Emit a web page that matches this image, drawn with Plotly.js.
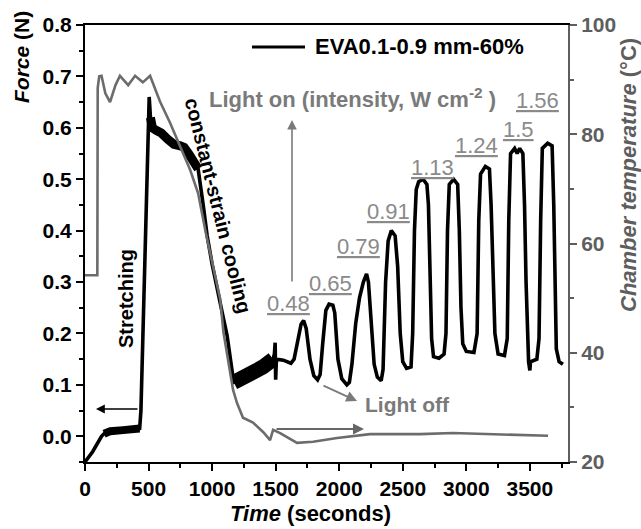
<!DOCTYPE html>
<html>
<head>
<meta charset="utf-8">
<script src="https://cdn.plot.ly/plotly-3.0.1.min.js"></script>
<style>html,body{margin:0;padding:0;background:#fff;}#chart{width:641px;height:529px;}</style>
</head>
<body>
<div id="chart"></div>
<script>
// ---- Data ----
const seriesName = 'EVA0.1-0.9 mm-60%';

const forceTime = [0, 60, 130, 150, 200, 300, 400, 430, 440, 470, 500, 505, 515, 530, 560, 600, 650, 700, 750, 780, 820, 860, 890, 930, 961, 1000, 1039, 1080, 1118, 1145, 1160, 1170, 1200, 1250, 1300, 1350, 1400, 1450, 1480, 1490, 1496, 1500, 1506, 1560, 1620, 1645, 1675, 1700, 1720, 1740, 1770, 1800, 1830, 1850, 1870, 1895, 1920, 1950, 1965, 1990, 2020, 2060, 2080, 2100, 2130, 2160, 2190, 2215, 2230, 2250, 2275, 2300, 2330, 2345, 2365, 2385, 2410, 2440, 2460, 2480, 2500, 2530, 2565, 2578, 2592, 2606, 2625, 2660, 2690, 2702, 2714, 2727, 2742, 2785, 2825, 2840, 2852, 2866, 2900, 2932, 2945, 2958, 2972, 3000, 3060, 3085, 3098, 3112, 3150, 3182, 3195, 3210, 3225, 3250, 3300, 3322, 3334, 3348, 3380, 3400, 3420, 3445, 3458, 3470, 3480, 3490, 3500, 3505, 3555, 3572, 3585, 3598, 3640, 3675, 3688, 3698, 3708, 3730, 3760];
const forceValue = [-0.05, -0.03, 0.0, 0.005, 0.01, 0.012, 0.012, 0.015, 0.05, 0.35, 0.64, 0.66, 0.62, 0.60, 0.595, 0.59, 0.578, 0.568, 0.565, 0.562, 0.548, 0.53, 0.52, 0.45, 0.39, 0.335, 0.285, 0.24, 0.196, 0.15, 0.12, 0.105, 0.108, 0.112, 0.122, 0.128, 0.135, 0.145, 0.15, 0.16, 0.182, 0.11, 0.15, 0.148, 0.142, 0.15, 0.19, 0.218, 0.225, 0.21, 0.15, 0.118, 0.11, 0.12, 0.18, 0.245, 0.257, 0.255, 0.24, 0.15, 0.112, 0.10, 0.105, 0.14, 0.22, 0.27, 0.30, 0.316, 0.30, 0.22, 0.14, 0.115, 0.108, 0.13, 0.30, 0.38, 0.40, 0.39, 0.33, 0.20, 0.145, 0.132, 0.135, 0.20, 0.40, 0.48, 0.495, 0.50, 0.49, 0.45, 0.30, 0.19, 0.155, 0.152, 0.16, 0.20, 0.40, 0.49, 0.50, 0.49, 0.40, 0.25, 0.18, 0.165, 0.163, 0.20, 0.42, 0.51, 0.525, 0.52, 0.45, 0.30, 0.20, 0.16, 0.157, 0.19, 0.42, 0.55, 0.56, 0.55, 0.56, 0.55, 0.45, 0.30, 0.18, 0.145, 0.128, 0.145, 0.15, 0.19, 0.42, 0.56, 0.57, 0.565, 0.45, 0.30, 0.17, 0.145, 0.14];

const tempTime = [0, 97, 100, 112, 130, 160, 197, 240, 275, 340, 394, 455, 512, 590, 669, 748, 827, 890, 950, 1063, 1089, 1141, 1165, 1196, 1243, 1322, 1401, 1456, 1480, 1535, 1668, 1794, 1983, 2242, 2636, 2895, 3163, 3643];
const tempValue = [54.2, 54.2, 88.5, 90.6, 90.7, 87.5, 85.9, 89.0, 90.7, 89.0, 90.7, 89.5, 90.7, 86.0, 82.1, 77.7, 73.5, 69.2, 62.0, 49.9, 43.8, 36.5, 33.2, 30.8, 28.1, 27.2, 25.5, 24.0, 25.9, 25.3, 23.5, 23.7, 24.4, 25.1, 25.1, 25.3, 25.1, 24.8];

const intensityLabels = ['0.48', '0.65', '0.79', '0.91', '1.13', '1.24', '1.5', '1.56'];
const xTickVals = [0, 500, 1000, 1500, 2000, 2500, 3000, 3500];
const yTickVals = [0.0, 0.1, 0.2, 0.3, 0.4, 0.5, 0.6, 0.7, 0.8];
const y2TickVals = [20, 40, 60, 80, 100];

// time windows where the force signal is a noisy, thick band
const noisyWindows = [[150, 430, 8], [515, 890, 9], [1165, 1480, 15]];

// ---- Layout helpers (pixel -> axis coordinates) ----
const W = 641, H = 529;
const M = {l: 85, r: 73, t: 25, b: 67};
const PW = W - M.l - M.r, PH = H - M.t - M.b;
const XR = [0, 3800], YR = [-0.05, 0.8];
const px2x = px => XR[0] + (px - M.l) / PW * (XR[1] - XR[0]);
const py2y = py => YR[1] - (py - M.t) / PH * (YR[1] - YR[0]);
const px2p = px => (px - M.l) / PW;
const py2p = py => (H - M.b - py) / PH;

const FONT = 'Liberation Sans, Arial, sans-serif';
const GRAY = '#7a7a7a';
const AXGRAY = '#5e5e5e';

const traces = [];
noisyWindows.forEach(w => {
  const xs = [], ys = [];
  forceTime.forEach((t, i) => { if (t >= w[0] && t <= w[1]) { xs.push(t); ys.push(forceValue[i]); } });
  traces.push({x: xs, y: ys, type: 'scatter', mode: 'lines', showlegend: false, yaxis: 'y',
    line: {color: '#000', width: w[2]}});
});
traces.push(
  {
    x: forceTime, y: forceValue, name: seriesName, type: 'scatter', mode: 'lines',
    line: {color: '#000', width: 3.6}, showlegend: false, yaxis: 'y'
  },
  {
    x: tempTime, y: tempValue, name: 'Chamber temperature', type: 'scatter', mode: 'lines',
    line: {color: '#6c6c6c', width: 2.6}, showlegend: false, yaxis: 'y2'
  }
);

// Intensity label positions (pixel centres)
const labelPos = [[288, 303], [330, 283], [358, 246], [388, 211], [432, 167], [476, 145], [518, 129], [537, 100]];

const annotations = [];
intensityLabels.forEach((t, i) => {
  annotations.push({
    x: px2x(labelPos[i][0]), y: py2y(labelPos[i][1]), xref: 'x', yref: 'y',
    text: '<u>' + t + '</u>', showarrow: false, xanchor: 'center', yanchor: 'middle',
    font: {family: FONT, size: 22, color: '#8a8a8a'}
  });
});

annotations.push(
  {x: px2x(352), y: py2y(98), xref: 'x', yref: 'y', showarrow: false,
   text: '<b>Light on (intensity, W cm<sup>-2</sup> )</b>', xanchor: 'center', yanchor: 'middle',
   font: {family: FONT, size: 22, color: GRAY}},
  {x: px2x(292), y: py2y(120), ax: px2x(292), ay: py2y(283), xref: 'x', yref: 'y', axref: 'x', ayref: 'y',
   text: '', showarrow: true, arrowhead: 2, arrowsize: 1.2, arrowwidth: 1.6, arrowcolor: GRAY},
  {x: px2x(407), y: py2y(404), xref: 'x', yref: 'y', showarrow: false,
   text: '<b>Light off</b>', xanchor: 'center', yanchor: 'middle',
   font: {family: FONT, size: 21, color: GRAY}},
  {x: px2x(357), y: py2y(401), ax: px2x(322), ay: py2y(385), xref: 'x', yref: 'y', axref: 'x', ayref: 'y',
   text: '', showarrow: true, arrowhead: 2, arrowsize: 1.2, arrowwidth: 1.8, arrowcolor: GRAY},
  {x: px2x(364), y: py2y(429), ax: px2x(275), ay: py2y(429), xref: 'x', yref: 'y', axref: 'x', ayref: 'y',
   text: '', showarrow: true, arrowhead: 2, arrowsize: 1.1, arrowwidth: 2, arrowcolor: '#666'},
  {x: px2x(96), y: py2y(409), ax: px2x(139), ay: py2y(409), xref: 'x', yref: 'y', axref: 'x', ayref: 'y',
   text: '', showarrow: true, arrowhead: 2, arrowsize: 1.1, arrowwidth: 1.6, arrowcolor: '#000'},
  {x: px2x(126), y: py2y(299), xref: 'x', yref: 'y', showarrow: false, textangle: -90,
   text: '<b>Stretching</b>', xanchor: 'center', yanchor: 'middle',
   font: {family: FONT, size: 20, color: '#000'}},
  {x: px2x(218), y: py2y(205), xref: 'x', yref: 'y', showarrow: false, textangle: 76,
   text: '<b>constant-strain cooling</b>', xanchor: 'center', yanchor: 'middle',
   font: {family: FONT, size: 20, color: '#000'}},
  // legend text
  {x: px2p(313), y: py2p(47), xref: 'paper', yref: 'paper', showarrow: false,
   text: '<b>' + seriesName + '</b>', xanchor: 'left', yanchor: 'middle',
   font: {family: FONT, size: 22, color: '#000'}},
  // axis titles
  {x: px2p(22), y: py2p(57), xref: 'paper', yref: 'paper', showarrow: false, textangle: -90,
   text: '<b><i>Force</i> (N)</b>', xanchor: 'center', yanchor: 'middle',
   font: {family: FONT, size: 21, color: '#000'}},
  {x: px2p(628), y: py2p(175), xref: 'paper', yref: 'paper', showarrow: false, textangle: -90,
   text: '<b><i>Chamber temperature</i> (°C)</b>', xanchor: 'center', yanchor: 'middle',
   font: {family: FONT, size: 22, color: AXGRAY}},
  {x: px2p(310), y: py2p(513), xref: 'paper', yref: 'paper', showarrow: false,
   text: '<b><i>Time</i> (seconds)</b>', xanchor: 'center', yanchor: 'middle',
   font: {family: FONT, size: 22, color: '#000'}}
);

const shapes = [
  {type: 'line', xref: 'paper', yref: 'paper', x0: px2p(252), x1: px2p(305), y0: py2p(47), y1: py2p(47),
   line: {color: '#000', width: 3}}
];

const layout = {
  width: W, height: H,
  margin: M,
  paper_bgcolor: '#fff', plot_bgcolor: '#fff',
  showlegend: false,
  font: {family: FONT},
  xaxis: {
    range: XR, tickvals: xTickVals, ticktext: xTickVals.map(String),
    ticks: 'outside', ticklen: 7, tickwidth: 2, tickcolor: '#000',
    minor: {dtick: 250, ticks: 'outside', ticklen: 4, tickwidth: 2, tickcolor: '#000'},
    showline: true, linecolor: '#000', linewidth: 2, mirror: true,
    showgrid: false, zeroline: false,
    tickfont: {family: FONT, size: 21, color: '#000', weight: 'bold'}
  },
  yaxis: {
    range: YR, tickvals: yTickVals, ticktext: yTickVals.map(v => v.toFixed(1)),
    ticks: 'outside', ticklen: 7, tickwidth: 2, tickcolor: '#000',
    minor: {dtick: 0.05, tick0: 0, ticks: 'outside', ticklen: 4, tickwidth: 2, tickcolor: '#000'},
    showline: true, linecolor: '#000', linewidth: 2, mirror: false,
    showgrid: false, zeroline: false,
    tickfont: {family: FONT, size: 21, color: '#000', weight: 'bold'}
  },
  yaxis2: {
    range: [20, 100], tickvals: y2TickVals, ticktext: y2TickVals.map(String),
    overlaying: 'y', side: 'right',
    ticks: 'outside', ticklen: 7, tickwidth: 2, tickcolor: AXGRAY,
    minor: {dtick: 10, ticks: 'outside', ticklen: 4, tickwidth: 2, tickcolor: AXGRAY},
    showline: true, linecolor: AXGRAY, linewidth: 2,
    showgrid: false, zeroline: false,
    tickfont: {family: FONT, size: 21, color: AXGRAY, weight: 'bold'}
  },
  annotations: annotations,
  shapes: shapes
};

Plotly.newPlot('chart', traces, layout, {staticPlot: true, displayModeBar: false});
</script>
</body>
</html>
